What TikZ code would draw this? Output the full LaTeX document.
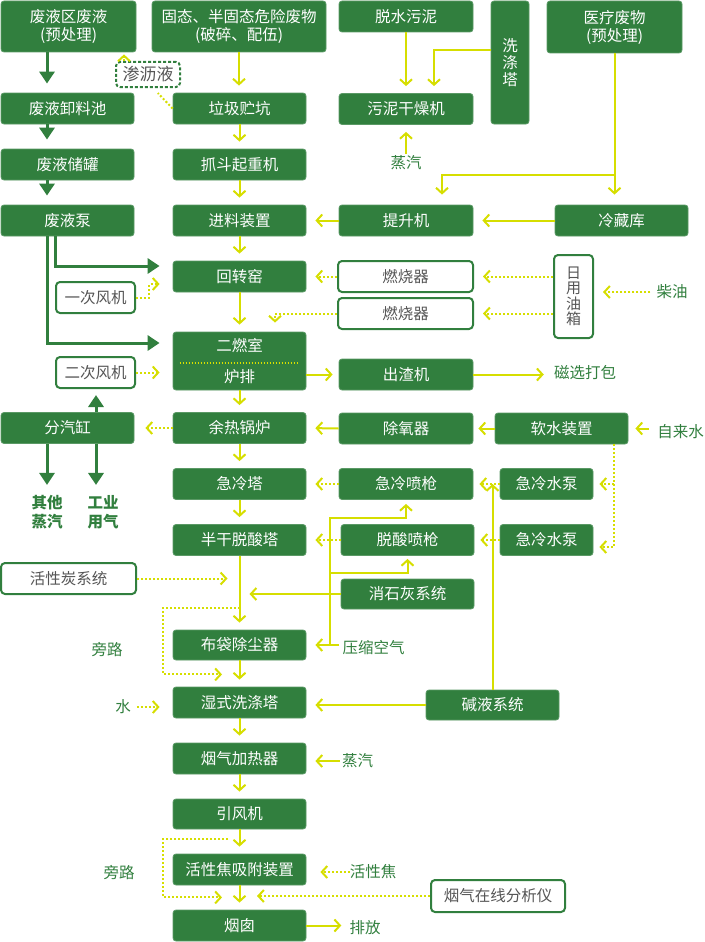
\documentclass[tikz,border=0pt]{standalone}
\usepackage{fontspec}
\setmainfont{Noto Sans CJK SC}
\usetikzlibrary{arrows.meta,calc}
\definecolor{ccgreen}{HTML}{317F3E}
\definecolor{ccyellow}{HTML}{D6DE00}
\definecolor{ccgray}{HTML}{555555}

\tikzset{
  box/.style={draw=ccgreen!80!white,line width=0.8pt,fill=ccgreen,text=white,rounded corners=3pt,
    inner sep=0pt,minimum width=133pt,minimum height=31pt,align=center,font=\fontsize{15.5}{18}\selectfont},
  wbox/.style={draw=ccgreen,line width=2pt,fill=white,text=ccgray,rounded corners=4pt,
    inner sep=0pt,minimum height=31pt,align=center,font=\fontsize{15.5}{18}\selectfont},
  lbl/.style={text=ccgreen,inner sep=0pt,align=center,font=\fontsize{15.5}{19}\selectfont},
  ya/.style={draw=ccyellow,line width=2pt,-{Straight Barb[length=5.5pt,width=12pt]},shorten >=7pt},
  yd/.style={ya,dash pattern=on 2pt off 2pt},
  ga/.style={draw=ccgreen,line width=3pt,-{Triangle[length=12pt,width=15pt]},shorten >=9pt},
}

\begin{document}
\begin{tikzpicture}[x=1pt,y=-1pt]
  \useasboundingbox (0,0) rectangle (704,942);
  % row 1
  \node[box,minimum width=135pt,minimum height=51pt] (wq) at (68.5,26.5) {废液区废液\\(预处理)};
  \node[box,minimum width=174pt,minimum height=51pt] (gt) at (239,26.5) {固态、半固态危险废物\\(破碎、配伍)};
  \node[box,minimum width=134pt] (tsn) at (406,16.5) {脱水污泥};
  \node[box,minimum width=38pt,minimum height=123pt,font=\fontsize{15.5}{17}\selectfont] (xdt) at (510,62.5) {洗\\涤\\塔};
  \node[box,minimum width=135pt,minimum height=52pt] (ylfw) at (614.5,27) {医疗废物\\(预处理)};
  \node[wbox,draw=ccgreen,dash pattern=on 3pt off 2pt,minimum width=64pt,minimum height=25pt,
    font=\fontsize{17}{19}\selectfont] (slj) at (148,74.5) {渗沥液};
  % rows 2-4
  \node[box] (xlc) at (67.5,108.5) {废液卸料池};
  \node[box] (ljk) at (239.5,108.5) {垃圾贮坑};
  \node[box,minimum width=134pt] (wngz) at (406,109) {污泥干燥机};
  \node[lbl] (zq1) at (406,163) {蒸汽};
  \node[box] (ccg) at (67.5,164.5) {废液储罐};
  \node[box] (zd) at (239.5,164.5) {抓斗起重机};
  \node[box] (fyb) at (67.5,220.5) {废液泵};
  \node[box] (jl) at (239.5,220.5) {进料装置};
  \node[box,minimum width=134pt] (tsj) at (406,220.5) {提升机};
  \node[box] (lck) at (621.5,220.5) {冷藏库};
  % kiln and burners
  \node[box] (hzy) at (239.5,276.5) {回转窑};
  \node[wbox,minimum width=79pt] (ycfj) at (95.5,297.5) {一次风机};
  \node[wbox,minimum width=135pt] (rsq1) at (405.5,276.5) {燃烧器};
  \node[wbox,minimum width=135pt] (rsq2) at (405.5,313.5) {燃烧器};
  \node[wbox,minimum width=39pt,minimum height=83pt,font=\fontsize{15}{15.5}\selectfont] (yx) at (573.5,296.5) {日\\用\\油\\箱};
  \node[lbl] (cy) at (672,292) {柴油};
  \node[box,minimum height=58pt] (erc) at (239.5,361) {二燃室\\[13pt]炉排};
  \node[wbox,minimum width=79pt] (ecfj) at (95.5,372.5) {二次风机};
  \node[box,minimum width=134pt] (czj) at (406,374.5) {出渣机};
  \node[lbl] (cxdb) at (585,373) {磁选打包};
  % boiler
  \node[box] (fqg) at (67.5,428) {分汽缸};
  \node[box] (yrgl) at (239.5,428) {余热锅炉};
  \node[box,minimum width=134pt] (cyq) at (406,428.5) {除氧器};
  \node[box] (rszz) at (561.5,428.5) {软水装置};
  \node[lbl] (zls) at (680.5,432) {自来水};
  \node[lbl,font=\fontsize{15.5}{19}\selectfont\bfseries] (qtzq) at (47,512) {其他\\蒸汽};
  \node[lbl,font=\fontsize{15.5}{19}\selectfont\bfseries] (gyyq) at (103,512) {工业\\用气};
  % flue gas cleaning
  \node[box] (jlt) at (239.5,484) {急冷塔};
  \node[box,minimum width=134pt] (jlpq) at (406,484) {急冷喷枪};
  \node[box,minimum width=93pt] (jlsb1) at (546.5,484) {急冷水泵};
  \node[box] (bgt) at (239.5,540) {半干脱酸塔};
  \node[box] (tspq) at (407.5,540) {脱酸喷枪};
  \node[box,minimum width=93pt] (jlsb2) at (546.5,540) {急冷水泵};
  \node[wbox,minimum width=135pt] (hxt) at (68.5,578.5) {活性炭系统};
  \node[box,minimum height=30pt] (xsh) at (407.5,594) {消石灰系统};
  \node[box,minimum height=30pt] (bd) at (239.5,645) {布袋除尘器};
  \node[lbl] (ysk) at (373.5,648) {压缩空气};
  \node[lbl] (pl1) at (107,650) {旁路};
  \node[box] (sx) at (239.5,702.5) {湿式洗涤塔};
  \node[lbl] (shui) at (123,707) {水};
  \node[box,minimum height=30pt] (jy) at (492.5,705) {碱液系统};
  \node[box] (yqj) at (239.5,758.5) {烟气加热器};
  \node[lbl] (zq2) at (357.5,761) {蒸汽};
  \node[box,minimum height=30pt] (yfj) at (239.5,814) {引风机};
  \node[box] (hxj) at (239.5,869.5) {活性焦吸附装置};
  \node[lbl] (hxjl) at (373,872) {活性焦};
  \node[lbl] (pl2) at (119,873) {旁路};
  \node[wbox,minimum width=134pt,minimum height=32pt] (fx) at (498,896) {烟气在线分析仪};
  \node[box] (yc) at (239.5,925.5) {烟囱};
  \node[lbl] (pf) at (365,928) {排放};

  \draw[ccyellow,line width=1.5pt,dash pattern=on 1.5pt off 1.5pt]
    ([xshift=7pt,yshift=-2pt]erc.west) -- ([xshift=-8pt,yshift=-2pt]erc.east);

  % waste liquid line
  \draw[ga] ([xshift=-21.5pt]wq.south) -- ([xshift=-20.5pt]xlc.north);
  \draw[ga] ([xshift=-20.5pt]xlc.south) -- ([xshift=-20.5pt]ccg.north);
  \draw[ga] ([xshift=-20.5pt]ccg.south) -- ([xshift=-20.5pt]fyb.north);
  \draw[ga,shorten >=13pt] ([xshift=-12.5pt]fyb.south) |- ([yshift=10.5pt]hzy.west);
  \draw[ga,shorten >=13pt] ([xshift=-20.5pt]fyb.south) |- ([yshift=18pt]erc.west);
  \draw[ga,shorten >=6pt] ([xshift=28.5pt]fqg.north) -- ([xshift=0.5pt]ecfj.south);
  \draw[ga,shorten >=10pt] ([xshift=-20.5pt]fqg.south) -- (qtzq.north);
  \draw[ga,shorten >=10pt] ([xshift=28.5pt]fqg.south) -- ([xshift=28.5pt]fqg.south |- gyyq.north);

  % main flow
  \foreach \a/\b in {gt/ljk,ljk/zd,zd/jl,jl/hzy,hzy/erc,erc/yrgl,yrgl/jlt,jlt/bgt,
                     bgt/bd,bd/sx,sx/yqj,yqj/yfj,yfj/hxj,hxj/yc}
    \draw[ya] (\a.south) -- (\a.south |- \b.north);

  % solid feeds
  \draw[ya] (tsn.south) -- (wngz.north);
  \draw[ya] ([yshift=12.5pt]xdt.west) -| ([xshift=28pt]wngz.north);
  \draw[ya,shorten <=2pt] (zq1.north) -- (wngz.south);
  \draw[ya,shorten >=10pt] (ylfw.south) -- (ylfw.south |- lck.north);
  \draw[ya,shorten >=10pt] (ylfw.south) ++(0,122) -| ([xshift=36pt]tsj.north);
  \draw[ya,shorten >=9pt] (lck.west) -- (tsj.east);
  \draw[ya,shorten >=9pt] (tsj.west) -- (jl.east);
  \draw[ya,shorten >=6pt] (erc.east |- czj.west) -- (czj.west);
  \draw[ya,shorten >=10pt] (czj.east) -- (czj.east -| cxdb.west);
  \draw[ya,shorten >=9pt] (cyq.west) -- (yrgl.east);
  \draw[ya,shorten >=5pt] (rszz.west) -- (cyq.east);
  \draw[ya,shorten <=8pt] (rszz.east -| zls.west) -- (rszz.east);
  \draw[ya,shorten >=0pt] (jy.north) -- (jy.north |- jlpq.east);
  \draw[ya,shorten >=9pt] (jy.west) -- (jy.west -| sx.east);
  \draw[ya,shorten >=10pt] (xsh.west) -- (xsh.west -| bgt.south);
  \draw[ya,shorten <=3pt,shorten >=9pt] (bd.east -| ysk.west) -- (bd.east);
  \draw[ya,shorten >=4pt] ([xshift=24pt]bd.east) -- ++(0,-127) -| (jlpq.south);
  \draw[ya,shorten >=3pt] ([xshift=24pt]bd.east) ++(0,-72) -| (tspq.south);
  \draw[ya,shorten <=2pt,shorten >=9pt] (zq2.west) -- (zq2.west -| yqj.east);
  \draw[ya,shorten >=8pt] (yc.east) -- (yc.east -| pf.west);

  % dotted feeds
  \draw[yd,-] (ljk.west) -- ([xshift=5pt]slj.south);
  \draw[yd,shorten >=2pt] ([xshift=-24pt]slj.north) -- ([xshift=-24pt]slj.north |- wq.south);
  \draw[yd,shorten >=13pt] (ycfj.east) -- ++(13,0) |- ([yshift=-7.5pt]hzy.west);
  \draw[yd,shorten >=9pt] (rsq1.west) -- (hzy.east);
  \draw[yd,shorten >=9pt] (rsq2.west) -| ([xshift=35.5pt]erc.north);
  \draw[yd,shorten >=9pt] (yx.west |- rsq1.east) -- (rsq1.east);
  \draw[yd,shorten >=9pt] (yx.west |- rsq2.east) -- (rsq2.east);
  \draw[yd,shorten <=6pt,shorten >=9pt] (cy.west) -- (cy.west -| yx.east);
  \draw[yd,shorten >=13pt] (ecfj.east) -- (ecfj.east -| erc.west);
  \draw[yd,shorten >=11pt] (yrgl.west) -- (fqg.east);
  \draw[yd,shorten >=6pt] ([xshift=52.5pt]rszz.south) |- ([yshift=-7pt]jlsb2.east);
  \draw[yd,shorten >=6pt] ([xshift=52.5pt]rszz.south |- jlsb1.east) -- (jlsb1.east);
  \draw[yd,shorten >=6pt] (jlsb1.west) -- (jlpq.east);
  \draw[yd,shorten >=9pt] (jlpq.west) -- (jlt.east);
  \draw[yd,shorten >=6pt] (jlsb2.west) -- (tspq.east);
  \draw[yd,shorten >=9pt] (tspq.west) -- (bgt.east);
  \draw[yd,shorten >=12pt] (hxt.east) -- (hxt.east -| bgt.south);
  \draw[yd,shorten >=0pt] (bgt.south) ++(0,52) -| ([xshift=-76.5pt,yshift=-14pt]bd.south)
    -- ([xshift=-17.5pt,yshift=-14pt]bd.south);
  \draw[yd,shorten <=6pt,shorten >=13pt] (shui.east) -- (shui.east -| sx.west);
  \draw[yd,shorten >=0pt] ([xshift=-11.5pt,yshift=-10pt]yfj.south) -| ([xshift=-76.5pt,yshift=-12pt]hxj.south)
    -- ([xshift=-17.5pt,yshift=-12pt]hxj.south);
  \draw[yd,shorten >=14pt] (hxjl.west) -- (hxjl.west -| hxj.east);
  \draw[yd,shorten >=17.5pt] (fx.west) -- (fx.west -| hxj.south);
\end{tikzpicture}
\end{document}
